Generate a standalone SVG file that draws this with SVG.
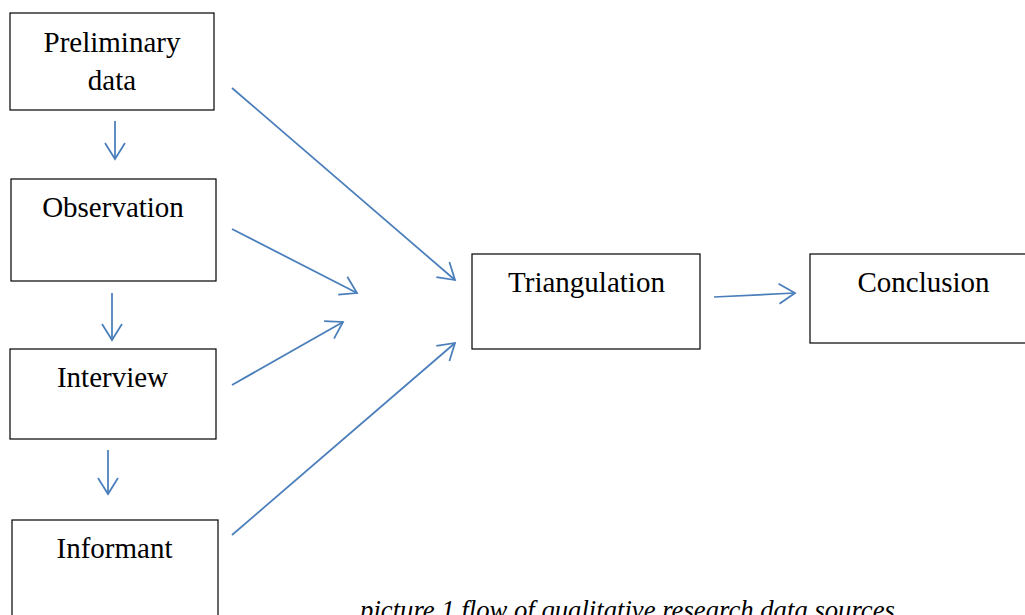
<svg xmlns="http://www.w3.org/2000/svg" width="1025" height="615" viewBox="0 0 1025 615">
<style>
.box{fill:#fff;stroke:#000;stroke-width:1.2}
.t{font-family:"Liberation Serif","Times New Roman",serif;font-size:29px;fill:#000;text-anchor:middle}
.cap{font-family:"Liberation Serif","Times New Roman",serif;font-size:26.7px;font-style:italic;fill:#000;text-anchor:middle}
.c{stroke:#4a7ebb;stroke-width:1.75;fill:none;marker-end:url(#ah)}
</style>
<defs>
<marker id="ah" markerUnits="userSpaceOnUse" viewBox="-18 -12 20 24" markerWidth="20" markerHeight="24" refX="0" refY="0" orient="auto">
<path d="M-16,-10 L0,0 L-16,10" fill="none" stroke="#4a7ebb" stroke-width="1.75"/>
</marker>
</defs>
<rect width="1025" height="615" fill="#fff"/>
<g id="preliminary"><rect class="box" x="10" y="13" width="204" height="97"/><text class="t" x="112" y="52">Preliminary</text><text class="t" x="112" y="90">data</text></g>
<g id="observation"><rect class="box" x="11" y="179" width="205" height="102"/><text class="t" x="113" y="217">Observation</text></g>
<g id="interview"><rect class="box" x="10" y="349" width="206" height="90"/><text class="t" x="112.5" y="387">Interview</text></g>
<g id="informant"><rect class="box" x="12" y="520" width="206" height="110"/><text class="t" x="114.5" y="558">Informant</text></g>
<g id="triangulation"><rect class="box" x="472" y="254" width="228" height="95"/><text class="t" x="586.5" y="292">Triangulation</text></g>
<g id="conclusion"><rect class="box" x="810" y="254" width="225" height="89"/><text class="t" x="923.5" y="292">Conclusion</text></g>
<g id="connectors">
<line class="c" x1="115" y1="121" x2="115" y2="159"/>
<line class="c" x1="112" y1="293" x2="112" y2="340"/>
<line class="c" x1="108" y1="450" x2="108" y2="494"/>
<line class="c" x1="232" y1="88" x2="455" y2="280"/>
<line class="c" x1="232" y1="229" x2="357" y2="293"/>
<line class="c" x1="232" y1="385" x2="343" y2="322"/>
<line class="c" x1="232" y1="535" x2="455" y2="343"/>
<line class="c" x1="714" y1="297" x2="795" y2="293"/>
</g>
<text id="caption" class="cap" x="627.5" y="619">picture 1 flow of qualitative research data sources</text>
</svg>
